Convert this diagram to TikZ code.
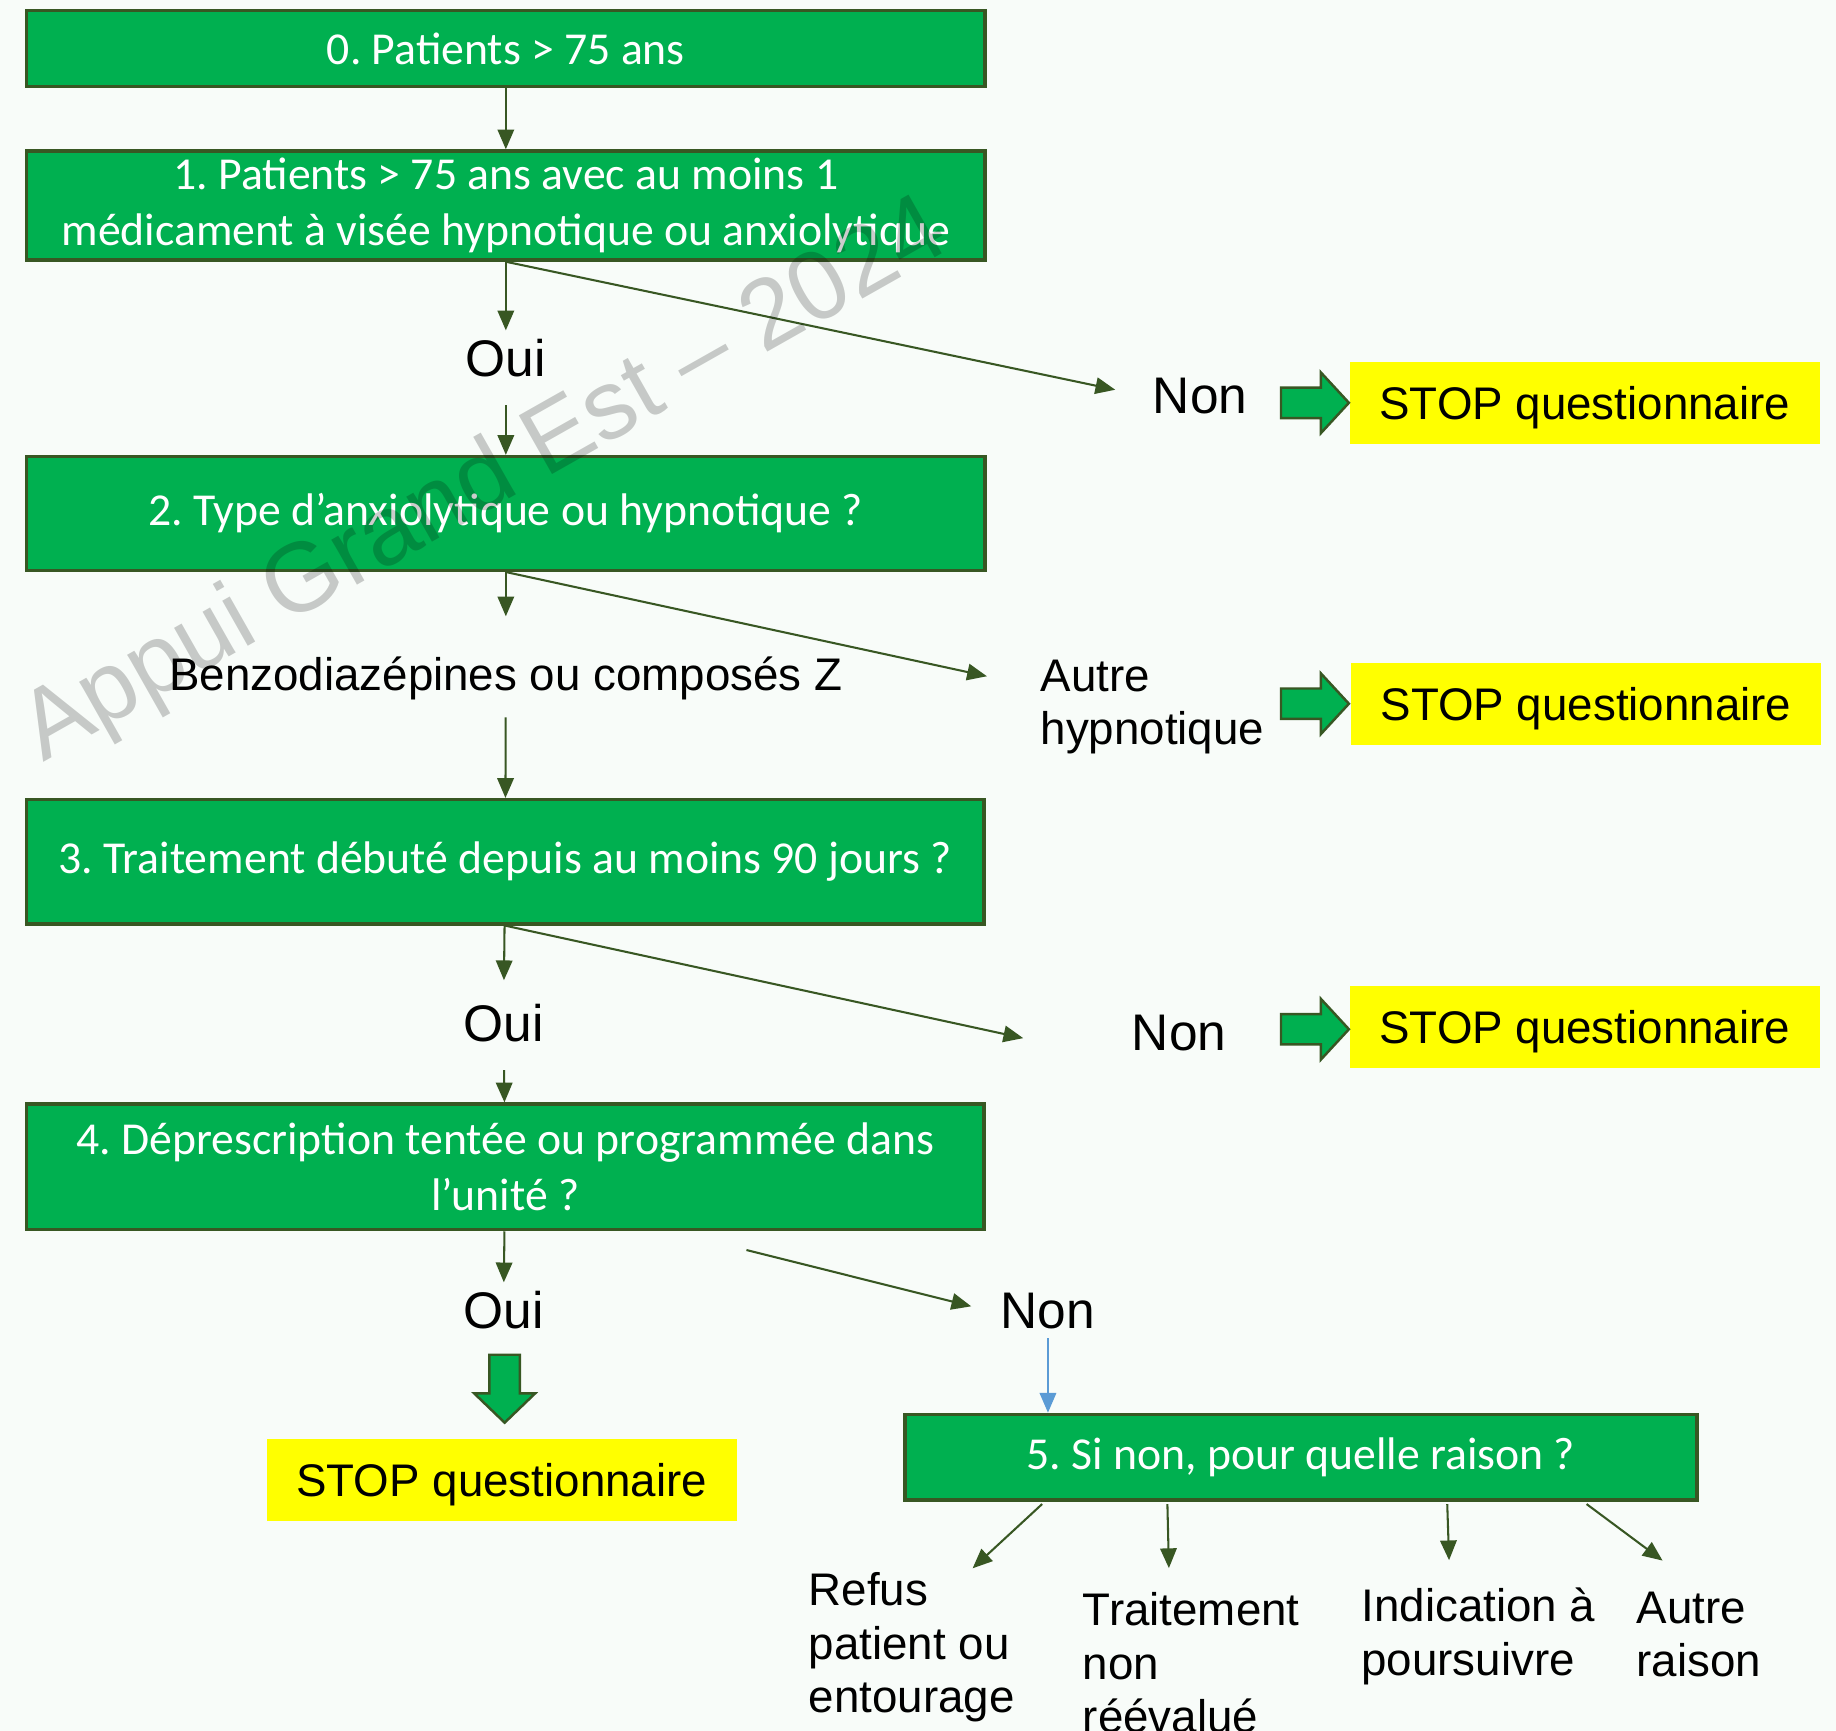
\documentclass[tikz,border=0pt]{standalone}
\usepackage{fontspec}
\setmainfont{Liberation Sans}
\newfontfamily\calibri{Carlito}
\frenchspacing
\usetikzlibrary{arrows.meta,calc}
\definecolor{boxgreen}{RGB}{0,176,80}
\definecolor{darkgreen}{RGB}{56,87,35}
\definecolor{stopyellow}{RGB}{255,255,0}
\definecolor{bluearrow}{RGB}{91,155,213}
\definecolor{bgcol}{RGB}{248,252,249}

\begin{document}
\begin{tikzpicture}[x=0.01cm,y=-0.01cm]
        \tikzstyle{every node} = [rectangle, inner sep=2pt]
        \tikzstyle{qbox} = [draw=darkgreen, line width=0.85pt, fill=boxgreen, text=white, font=\calibri\fontsize{11.1}{13.7}\selectfont, align=center, inner sep=0pt, minimum width=8.18cm]
        \tikzstyle{stopbox} = [fill=stopyellow, font=\fontsize{11.1}{13}\selectfont, text depth=0pt, minimum width=4.01cm, minimum height=0.7cm]
        \tikzstyle{ans} = [font=\fontsize{12.5}{15}\selectfont]
        \tikzstyle{lbl} = [font=\fontsize{11.1}{13}\selectfont, align=left, anchor=west]
        \tikzstyle{conn} = [draw=darkgreen, line width=0.5pt, -{Triangle[length=4.8pt,width=4pt]}]
        \tikzstyle{blockarr} = [fill=boxgreen, draw=darkgreen, line width=0.6pt]

        \fill[bgcol] (0,0) rectangle (1568,1478);
        \useasboundingbox (0,0) rectangle (1568,1478);

        \node[qbox, minimum height=0.65cm] (q0) at (432,41.5) {0. Patients > 75 ans};
        \node[qbox, minimum height=0.93cm] (q1) at (432,175.5) {1. Patients > 75 ans avec au moins 1\\médicament à visée hypnotique ou anxiolytique};
        \node[ans] (o1) at (432,306) {Oui};
        \node[ans] (n1) at (1025,338) {Non};
        \node[stopbox] (s1) at (1353.5,344) {STOP questionnaire};
        \node[qbox, minimum height=0.97cm] (q2) at (432,438.5) {2. Type d’anxiolytique ou hypnotique ?};
        \node[lbl, anchor=center] (bz) at (432,579.5) {Benzodiazépines ou composés Z};
        \node[lbl] (a2) at (881,604) {Autre\\hypnotique};
        \node[stopbox] (s2) at (1354.5,601) {STOP questionnaire};
        \node[qbox, minimum width=8.17cm, minimum height=1.06cm] (q3) at (431.5,736) {3. Traitement débuté depuis au moins 90 jours ?};
        \node[ans] (o3) at (430,874) {Oui};
        \node[ans] (n3) at (1007,882) {Non};
        \node[stopbox] (s3) at (1353.5,877) {STOP questionnaire};
        \node[qbox, minimum width=8.17cm, minimum height=1.07cm] (q4) at (431.5,996.5) {4. Déprescription tentée ou programmée dans\\l’unité ?};
        \node[ans] (o4) at (430,1119) {Oui};
        \node[ans] (n4) at (895,1120) {Non};
        \node[stopbox] (s4) at (428.5,1264) {STOP questionnaire};
        \node[qbox, minimum width=6.76cm, minimum height=0.73cm] (q5) at (1111,1244.5) {5. Si non, pour quelle raison ?};
        \node[lbl] (r1) at (683,1407) {Refus\\patient ou\\entourage};
        \node[lbl] (r2) at (917,1420) {Traitement\\non\\réévalué};
        \node[lbl] (r3) at (1155,1397.5) {Indication à\\poursuivre};
        \node[lbl] (r4) at (1390,1396) {Autre\\raison};

        \foreach \from/\to in {q0/q1, q1/o1, q4/o4}
            \draw[conn] (\from) -- (\to);
        \draw[conn, shorten <=0.16cm] (o1) -- (q2);
        \draw[conn, shorten >=0.25cm] (q1.south) -- (n1.west);
        \draw[conn, shorten >=0.27cm] (q2) -- (bz);
        \draw[conn, shorten <=0.07cm] (bz) -- (q3);
        \draw[conn, shorten >=0.39cm] (q2.south) -- (a2.170);
        \draw[conn, shorten >=0.13cm] (q3) -- (o3);
        \draw[conn, shorten <=0.16cm] (o3) -- (q4);
        \draw[conn, shorten >=0.87cm] (q3.south) -- (n3.south west);
        \draw[conn, shorten >=0.18cm] ($(q4.south)+(206,16)$) -- (n4.west);
        \draw[conn, color=bluearrow] (n4.south) -- (n4.south |- q5.north);

        \foreach \sx/\to/\ex/\ey in {-221/r1/52/4, -114/r2/-19/-13, 125/r3/-25/-16, 244/r4/-31/-19}
            \draw[conn] ($(q5.south)+(\sx,2)$) -- ($(\to.north)+(\ex,\ey)$);

        % fat arrows towards the STOP boxes
        \foreach \y in {344,601,879}
            \draw[blockarr] (1094,\y-13) -- (1128,\y-13) -- (1128,\y-26) -- (1152,\y) -- (1128,\y+26) -- (1128,\y+13) -- (1094,\y+13) -- cycle;
        \draw[blockarr] (418,1157) -- (444,1157) -- (444,1190) -- (457,1190) -- (431,1215) -- (405,1190) -- (418,1190) -- cycle;

        \node[rotate=29.5, anchor=base west, text=black, opacity=0.2, font=\fontsize{23.8}{28}\selectfont] (wm) at (30,655) {Appui Grand Est – 2024};
\end{tikzpicture}
\end{document}
